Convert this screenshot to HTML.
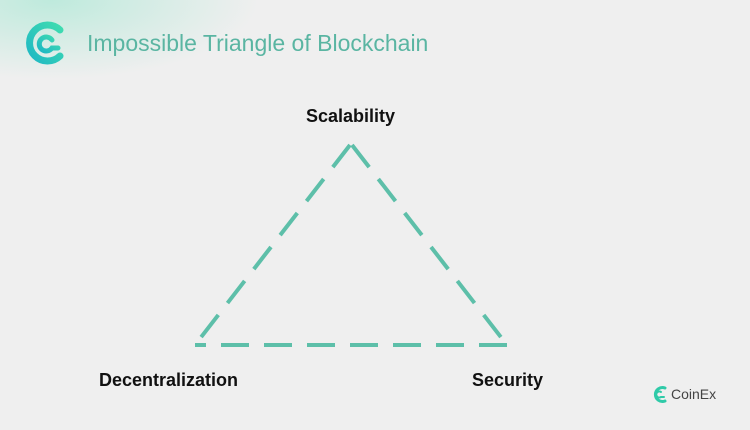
<!DOCTYPE html>
<html><head><style>
body{margin:0;width:750px;height:430px;background:#efefef;overflow:hidden;position:relative;font-family:"Liberation Sans",sans-serif}
.t{position:absolute;white-space:nowrap}
.l{font-size:18px;font-weight:bold;color:#111}
</style></head><body>
<div style="position:absolute;left:0;top:0;width:260px;height:80px;background:radial-gradient(ellipse at 20% 0%,rgba(150,230,205,0.55),rgba(239,239,239,0) 70%)"></div>
<svg width="750" height="430" style="position:absolute;left:0;top:0">
<defs><linearGradient id="g" x1="0" y1="1" x2="1" y2="0"><stop offset="0" stop-color="#1fb8c4"/><stop offset="1" stop-color="#3fdcb0"/></linearGradient></defs>
<g fill="none" stroke="url(#g)" stroke-linecap="round">
<path d="M60 30 A18 18 0 1 0 60 56" stroke-width="7"/>
<path d="M52 40 A7 7 0 1 0 52 48 L58 48" stroke-width="5"/>
</g>
<g fill="none" stroke="#5dbfa9" stroke-width="4" stroke-dasharray="28 15">
<path d="M350 145 L195 345"/>
<path d="M352 145 L507 345"/>
<path d="M507 345 L195 345"/>
</g>
<g fill="none" stroke="#2fcaa8" stroke-linecap="round">
<path d="M665 388 A7 7 0 1 0 665 401" stroke-width="3"/>
<path d="M661 392 A3 3 0 1 0 661 397 L664 397" stroke-width="2"/>
</g>
</svg>
<div class="t" style="left:87px;top:30px;font-size:23px;color:#5ab5a2">Impossible Triangle of Blockchain</div>
<div class="t l" style="left:306px;top:106px">Scalability</div>
<div class="t l" style="left:99px;top:370px">Decentralization</div>
<div class="t l" style="left:472px;top:370px">Security</div>
<div class="t" style="left:671px;top:386px;font-size:14px;color:#444">CoinEx</div>
</body></html>
